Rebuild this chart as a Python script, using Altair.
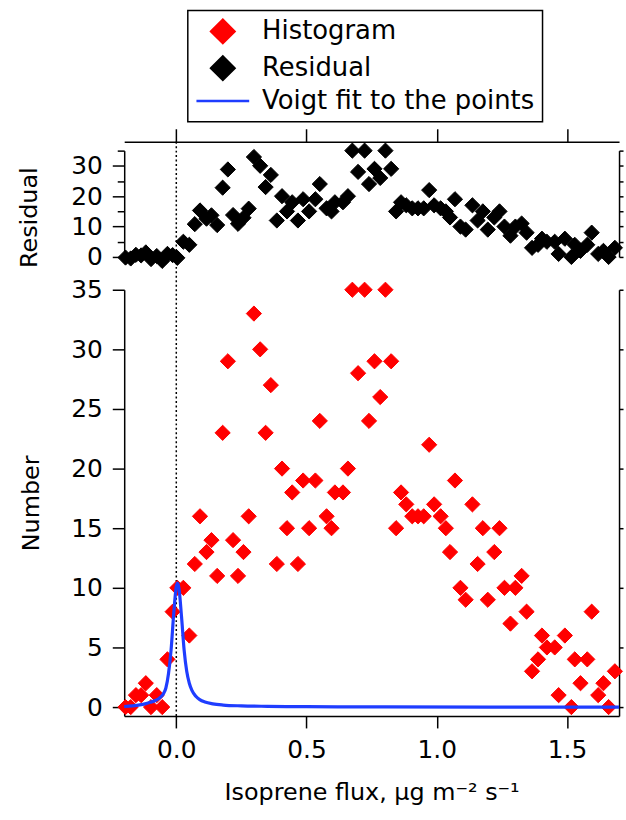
import altair as alt
import pandas as pd

# ---------------- data ----------------
flux = [-0.195, -0.175, -0.155, -0.135, -0.117, -0.097, -0.075, -0.054, -0.034, -0.014,
        0.004, 0.027, 0.050, 0.071, 0.091, 0.116, 0.135, 0.157, 0.178, 0.198,
        0.218, 0.237, 0.258, 0.278, 0.298, 0.322, 0.343, 0.363, 0.386, 0.406,
        0.425, 0.445, 0.467, 0.487, 0.510, 0.534, 0.551, 0.577, 0.596, 0.609,
        0.640, 0.659, 0.676, 0.698, 0.723, 0.740, 0.761, 0.783, 0.803, 0.825,
        0.844, 0.863, 0.883, 0.906, 0.928, 0.950, 0.971, 0.990, 1.015, 1.035,
        1.051, 1.070, 1.091, 1.111, 1.137, 1.157, 1.177, 1.196, 1.221, 1.241,
        1.260, 1.283, 1.302, 1.326, 1.345, 1.366, 1.389, 1.404, 1.423, 1.453,
        1.468, 1.492, 1.517, 1.530, 1.552, 1.578, 1.595, 1.620, 1.640, 1.660,
        1.684]
histogram = [0, 0, 1, 1, 2, 0, 1, 0, 4, 8,
             10, 10, 6, 12, 16, 13, 14, 11, 23, 29,
             14, 11, 13, 16, 33, 30, 23, 27, 12, 20,
             15, 18, 12, 19, 15, 19, 24, 16, 15, 18,
             18, 20, 35, 28, 35, 24, 29, 26, 35, 29,
             15, 18, 17, 16, 16, 16, 22, 17, 16, 15,
             13, 19, 10, 9, 17, 12, 15, 9, 13, 15,
             10, 7, 10, 11, 8, 3, 4, 6, 5, 5,
             1, 6, 0, 4, 2, 4, 8, 1, 2, 0,
             3]
residual = [-0.2, -0.5, 0.7, 0.5, 1.5, -0.7, 0.3, -1.3, 1.0, 0.6,
            -0.3, 5.0, 4.0, 10.8, 15.3, 12.6, 13.7, 10.5, 22.8, 28.8,
            13.8, 10.9, 12.9, 15.9, 32.9, 30.0, 23.0, 27.0, 12.0, 20.0,
            15.0, 18.0, 12.0, 19.0, 15.0, 19.0, 24.0, 16.0, 15.0, 18.0,
            18.0, 20.0, 35.0, 28.0, 35.0, 24.0, 29.0, 26.0, 35.0, 29.0,
            15.0, 18.0, 17.0, 16.0, 16.0, 16.0, 22.0, 17.0, 16.0, 15.0,
            13.0, 19.0, 10.0, 9.0, 17.0, 12.0, 15.0, 9.0, 13.0, 15.0,
            10.0, 7.0, 10.0, 11.0, 8.0, 3.0, 4.0, 6.0, 5.0, 5.0,
            1.0, 6.0, 0.0, 4.0, 2.0, 4.0, 8.0, 1.0, 2.0, 0.0,
            3.0]
fit_flux = [-0.2, -0.17, -0.14, -0.12, -0.10, -0.08, -0.065, -0.05, -0.04, -0.03,
            -0.02, -0.01, 0.0, 0.005, 0.01, 0.02, 0.03, 0.04, 0.05, 0.06,
            0.075, 0.09, 0.11, 0.14, 0.18, 0.25, 0.35, 0.5, 0.8, 1.2, 1.7]
fit_number = [0.05, 0.1, 0.18, 0.27, 0.4, 0.55, 0.75, 1.1, 1.6, 2.8,
              4.8, 7.8, 10.1, 10.4, 10.0, 7.6, 4.8, 3.0, 2.0, 1.4,
              0.9, 0.62, 0.42, 0.27, 0.17, 0.1, 0.06, 0.03, 0.01, 0.0, 0.0]
zero_flux = [0.0]

series_names = ["Histogram", "Residual", "Voigt fit to the points"]
x_ticks = [0.0, 0.5, 1.0, 1.5]

# ---------------- styling ----------------
FONT = "DejaVu Sans"
RED = "#ff0000"
BLACK = "#000000"
BLUE = "#1f3dff"
W = 498
H_TOP = 107
H_BOT = 429
GAP = 33

hist_df = pd.DataFrame({"flux": flux, "value": histogram, "series": "Histogram"})
resid_df = pd.DataFrame({"flux": flux, "value": residual, "series": "Residual"})
fit_df = pd.DataFrame({"flux": fit_flux, "value": fit_number})
zero_df = pd.DataFrame({"flux": zero_flux})

x_scale = alt.Scale(domain=[-0.2, 1.7], nice=False, zero=False)
y_top_scale = alt.Scale(domain=[0, 35], nice=False, zero=False)
y_bot_scale = alt.Scale(domain=[-0.75, 35], nice=False, zero=False)

legend = alt.Legend(
    title=None, orient="none", legendX=64, legendY=-141, direction="vertical",
    strokeColor="black", fillColor="white", padding=8, rowPadding=3,
    labelFont=FONT, labelFontSize=26, labelColor="black", labelLimit=0,
    labelOffset=26.5, symbolOffset=14.25, symbolSize=552,
    symbolStrokeWidth=2.5, symbolOpacity=1,
)
fill_enc = alt.Fill("series:N", legend=legend,
                    scale=alt.Scale(domain=series_names, range=[RED, BLACK, "transparent"]))
stroke_enc = alt.Stroke("series:N", legend=legend,
                        scale=alt.Scale(domain=series_names, range=[RED, BLACK, BLUE]))
shape_enc = alt.Shape("series:N", legend=legend,
                      scale=alt.Scale(domain=series_names,
                                      range=["diamond", "diamond", "M-2.26,0L2.26,0"]))

pt = dict(filled=True, size=234, strokeWidth=1, opacity=1)

# ---------------- top panel: residual ----------------
rule_top = alt.Chart(zero_df).mark_rule(
    color="black", strokeWidth=1.5, strokeDash=[2, 2.5]
).encode(
    x=alt.X("flux:Q", scale=x_scale, axis=None),
    y=alt.value(-9),
    y2=alt.value(H_TOP + GAP + H_BOT),
)
resid_pts = alt.Chart(resid_df).mark_point(**pt).encode(
    x=alt.X("flux:Q", scale=x_scale,
            axis=alt.Axis(orient="top", values=x_ticks, labels=False, tickSize=13,
                          offset=9, title=None, grid=False)),
    y=alt.Y("value:Q", scale=y_top_scale,
            axis=alt.Axis(orient="left", values=[0, 10, 20, 30], tickSize=12,
                          labelPadding=10, title="Residual", titlePadding=29,
                          titleY=67, grid=False)),
    fill=fill_enc, stroke=stroke_enc, shape=shape_enc,
)
minor_top = alt.Chart(resid_df).mark_point(opacity=0).encode(
    x=alt.X("flux:Q", scale=x_scale, axis=None),
    y=alt.Y("value:Q", scale=y_top_scale,
            axis=alt.Axis(orient="left", values=[5, 15, 25, 35], tickSize=7,
                          labels=False, domain=False, title=None, grid=False)),
)
right_top = alt.Chart(resid_df).mark_point(opacity=0).encode(
    x=alt.X("flux:Q", scale=x_scale, axis=None),
    y=alt.Y("value:Q", scale=y_top_scale,
            axis=alt.Axis(orient="right", values=[0, 5, 10, 15, 20, 25, 30, 35],
                          tickSize=4, labels=False, title=None, grid=False)),
)
top = alt.layer(rule_top, resid_pts, minor_top, right_top).resolve_axis(
    x="independent", y="independent"
).properties(width=W, height=H_TOP)

# ---------------- bottom panel: histogram + fit ----------------
hist_pts = alt.Chart(hist_df).mark_point(**pt).encode(
    x=alt.X("flux:Q", scale=x_scale,
            axis=alt.Axis(orient="bottom", values=x_ticks, format=".1f", tickSize=12,
                          labelPadding=10, title="Isoprene flux, μg m⁻² s⁻¹",
                          titlePadding=18, grid=False)),
    y=alt.Y("value:Q", scale=y_bot_scale,
            axis=alt.Axis(orient="left", values=[0, 5, 10, 15, 20, 25, 30, 35],
                          tickSize=12, labelPadding=10, title="Number",
                          titlePadding=27, grid=False)),
    fill=fill_enc, stroke=stroke_enc, shape=shape_enc,
)
fit_line = alt.Chart(fit_df).mark_line(
    color=BLUE, strokeWidth=3.2, interpolate="monotone"
).encode(
    x=alt.X("flux:Q", scale=x_scale, axis=None),
    y=alt.Y("value:Q", scale=y_bot_scale, axis=None),
)
right_bot = alt.Chart(hist_df).mark_point(opacity=0).encode(
    x=alt.X("flux:Q", scale=x_scale, axis=None),
    y=alt.Y("value:Q", scale=y_bot_scale,
            axis=alt.Axis(orient="right", values=[0, 5, 10, 15, 20, 25, 30, 35],
                          tickSize=4, labels=False, title=None, grid=False)),
)
bottom = alt.layer(hist_pts, fit_line, right_bot).resolve_axis(
    x="independent", y="independent"
).properties(width=W, height=H_BOT)

chart = alt.vconcat(top, bottom, spacing=GAP, bounds="flush").properties(
    padding={"left": 18, "top": 7, "right": 0, "bottom": 3}
).configure(font=FONT).configure_axis(
    labelFont=FONT, titleFont=FONT, labelFontSize=25, titleFontSize=24,
    labelColor="black", titleColor="black", titleFontWeight="normal",
    domainColor="black", tickColor="black", domainWidth=1.5, tickWidth=1.5,
).configure_view(stroke=None).configure_legend(strokeWidth=1.5)

chart.save("out.html", embed_options={"renderer": "svg", "actions": False})
